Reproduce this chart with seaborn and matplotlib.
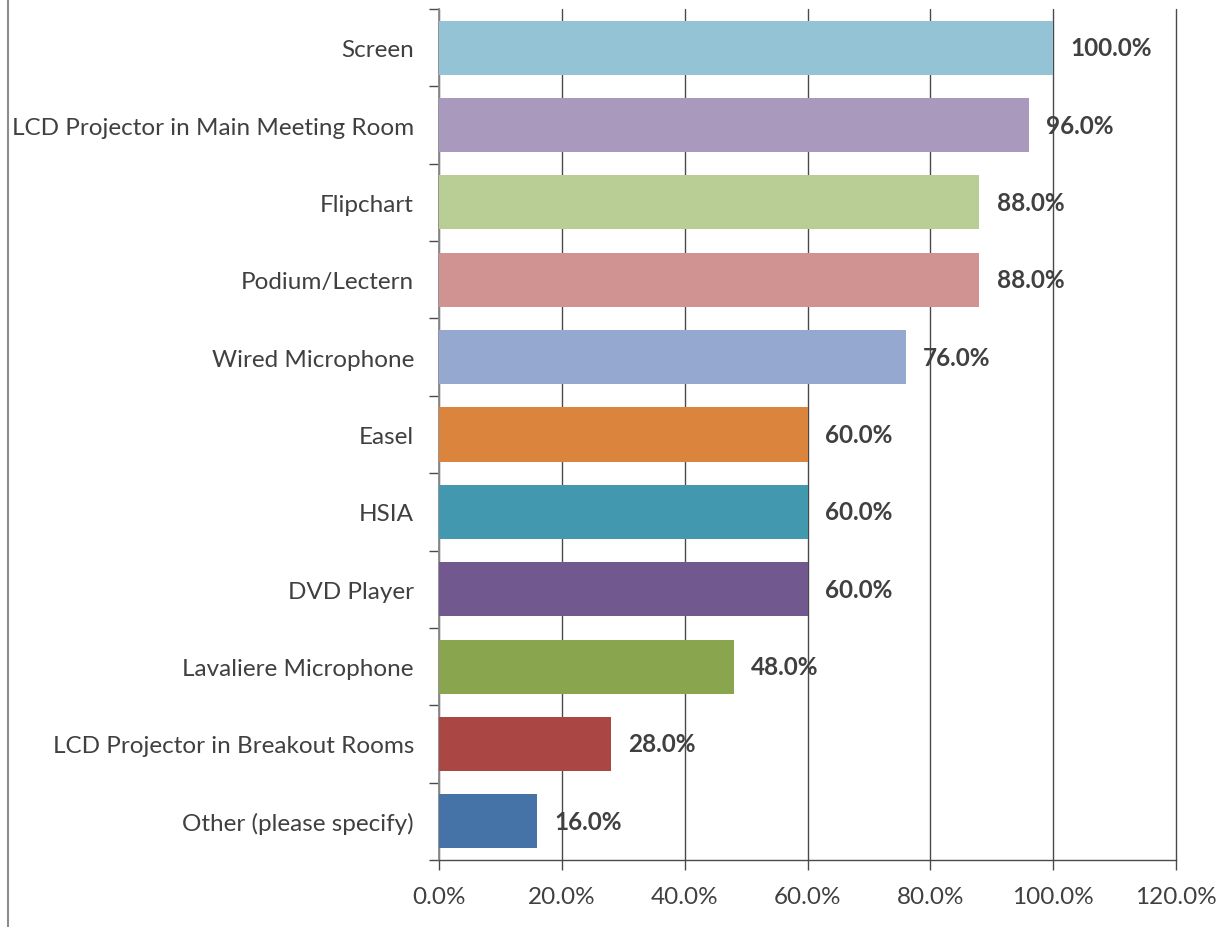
import matplotlib
matplotlib.use("Agg")
import matplotlib.pyplot as plt
import seaborn as sns
import pandas as pd
from matplotlib.ticker import FixedLocator, FuncFormatter

categories = [
    "Screen",
    "LCD Projector in Main Meeting Room",
    "Flipchart",
    "Podium/Lectern",
    "Wired Microphone",
    "Easel",
    "HSIA",
    "DVD Player",
    "Lavaliere Microphone",
    "LCD Projector in Breakout Rooms",
    "Other (please specify)",
]
values = [100.0, 96.0, 88.0, 88.0, 76.0, 60.0, 60.0, 60.0, 48.0, 28.0, 16.0]
colors = [
    "#93C3D4", "#A99ABD", "#B9CE95", "#D19392", "#95A9D0",
    "#DB843D", "#4198AF", "#71588F", "#89A54E", "#AA4643", "#4572A7",
]
x_ticks = [0, 20, 40, 60, 80, 100, 120]

sns.set_theme(style="white")
plt.rcParams["font.family"] = ["Lato", "DejaVu Sans"]

df = pd.DataFrame({"category": categories, "value": values})

fig = plt.figure(figsize=(12.25, 9.28), dpi=100)
ax = fig.add_axes([439 / 1225, 1 - 861 / 928, (1176 - 439) / 1225, (861 - 10) / 928])

sns.barplot(
    data=df, x="value", y="category", hue="category", order=categories,
    palette=colors, orient="h", width=0.70, legend=False, saturation=1,
    linewidth=0, edgecolor="none", ax=ax, zorder=3,
)

ax.set_xlim(0, 120)
ax.set_ylim(len(categories) - 0.5, -0.5)
ax.xaxis.set_major_locator(FixedLocator(x_ticks))
ax.xaxis.set_major_formatter(FuncFormatter(lambda v, p: f"{v:.1f}%"))
ax.grid(axis="x", color="#4a4a4a", linewidth=1.0, zorder=0)
ax.grid(axis="y", visible=False)
ax.set_axisbelow(True)
for gl in ax.get_xgridlines():
    gl.set_clip_on(False)

for side in ["top", "right"]:
    ax.spines[side].set_visible(False)
ax.spines["left"].set_color("#8c8c8c")
ax.spines["left"].set_linewidth(1.3)
ax.spines["bottom"].set_color("#4a4a4a")
ax.spines["bottom"].set_linewidth(1.0)

ax.set_xlabel("")
ax.set_ylabel("")

# category ticks sit on the band boundaries
ax.yaxis.set_minor_locator(FixedLocator([i - 0.5 for i in range(len(categories) + 1)]))
ax.tick_params(axis="y", which="major", length=0, pad=18, labelsize=17.5, labelcolor="#404040")
ax.tick_params(axis="y", which="minor", left=True, length=7, width=1.0, color="#4a4a4a")
ax.tick_params(axis="x", which="major", bottom=True, length=7, width=1.0, color="#4a4a4a",
               labelsize=17.5, labelcolor="#404040", pad=12)

for i, v in enumerate(values):
    ax.annotate(f"{v:.1f}%", xy=(v, i), xytext=(12.5, 0), textcoords="offset points",
                ha="left", va="center", fontsize=17.5, fontweight="bold", color="#404040",
                zorder=5)

# thin frame line at the left edge of the chart area
fig.add_artist(plt.Line2D([8 / 1225, 8 / 1225], [0, 1], transform=fig.transFigure,
                          color="#8c8c8c", linewidth=1.5))

fig.savefig("out.png", dpi=100)
